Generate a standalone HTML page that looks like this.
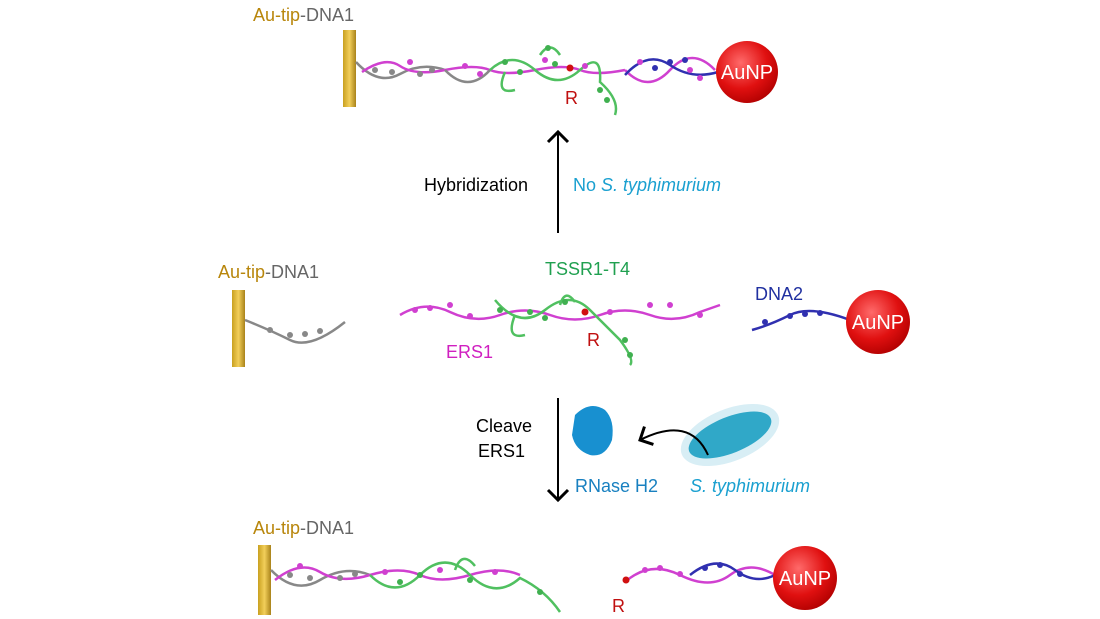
<!DOCTYPE html>
<html><head><meta charset="utf-8"><style>
html,body{margin:0;padding:0;background:#fff}
svg{display:block}
text{font-family:"Liberation Sans",Arial,sans-serif}
</style></head><body>
<svg width="1100" height="619" viewBox="0 0 1100 619" xmlns="http://www.w3.org/2000/svg">
<defs>
<linearGradient id="gold" x1="0" x2="1"><stop offset="0" stop-color="#c9a020"/><stop offset="0.5" stop-color="#f2cf5a"/><stop offset="1" stop-color="#a9821a"/></linearGradient>
<radialGradient id="np" cx="0.4" cy="0.35" r="0.7"><stop offset="0" stop-color="#ff6a6a"/><stop offset="0.6" stop-color="#e01010"/><stop offset="1" stop-color="#b00000"/></radialGradient>
<marker id="ah" markerWidth="12" markerHeight="12" refX="6" refY="6" orient="auto"><path d="M1,1 L6,6 L1,11" fill="none" stroke="#000" stroke-width="1.5"/></marker>
</defs>

<!-- TOP -->
<text x="253" y="21" font-size="18"><tspan fill="#b8860b">Au-tip</tspan><tspan fill="#666">-DNA1</tspan></text>
<rect x="343" y="30" width="13" height="77" fill="url(#gold)"/>
<g fill="none" stroke-width="2.5">
<path d="M356 62 Q378 86 400 74 T445 70" stroke="#888"/>
<path d="M362 72 Q385 56 400 66 T445 70 T490 70 T535 70 T580 70 T625 70" stroke="#d040d0"/>
<path d="M445 70 Q468 94 490 70" stroke="#888"/>
<path d="M490 70 Q512 50 535 70 T580 70 T600 82 Q620 100 615 115" stroke="#50c060"/>
<path d="M625 70 Q648 94 670 70 T715 70" stroke="#d040d0"/>
<path d="M625 75 Q648 50 670 65 T718 72" stroke="#3030b0"/>
<path d="M540 55 Q550 40 560 55" stroke="#50c060"/>
<path d="M505 72 Q495 95 515 90" stroke="#50c060"/>
</g>
<g fill="#d040d0"><circle cx="410" cy="62" r="3"/><circle cx="465" cy="66" r="3"/><circle cx="480" cy="74" r="3"/><circle cx="545" cy="60" r="3"/><circle cx="585" cy="66" r="3"/><circle cx="640" cy="62" r="3"/><circle cx="690" cy="70" r="3"/><circle cx="700" cy="78" r="3"/></g>
<g fill="#888"><circle cx="375" cy="70" r="3"/><circle cx="392" cy="72" r="3"/><circle cx="420" cy="74" r="3"/><circle cx="432" cy="70" r="3"/></g>
<g fill="#40b050"><circle cx="505" cy="62" r="3"/><circle cx="520" cy="72" r="3"/><circle cx="555" cy="64" r="3"/><circle cx="600" cy="90" r="3"/><circle cx="607" cy="100" r="3"/><circle cx="548" cy="48" r="3"/></g>
<g fill="#3030b0"><circle cx="655" cy="68" r="3"/><circle cx="670" cy="62" r="3"/><circle cx="685" cy="60" r="3"/></g>
<circle cx="570" cy="68" r="3.5" fill="#d01010"/>
<text x="565" y="104" font-size="18" fill="#c01010">R</text>
<circle cx="747" cy="72" r="31" fill="url(#np)"/>
<text x="747" y="79" font-size="20" fill="#fff" text-anchor="middle">AuNP</text>

<!-- arrow up -->
<line x1="558" y1="233" x2="558" y2="132" stroke="#000" stroke-width="2" marker-end="url(#ah)"/>
<text x="424" y="191" font-size="18" fill="#000">Hybridization</text>
<text x="573" y="191" font-size="18" fill="#1aa0d0">No <tspan font-style="italic">S. typhimurium</tspan></text>

<!-- MIDDLE -->
<text x="218" y="278" font-size="18"><tspan fill="#b8860b">Au-tip</tspan><tspan fill="#666">-DNA1</tspan></text>
<rect x="232" y="290" width="13" height="77" fill="url(#gold)"/>
<path d="M245 320 Q270 330 290 340 T345 322" fill="none" stroke="#888" stroke-width="2.5"/>
<g fill="#888"><circle cx="270" cy="330" r="3"/><circle cx="290" cy="335" r="3"/><circle cx="305" cy="334" r="3"/><circle cx="320" cy="331" r="3"/></g>
<text x="545" y="275" font-size="18" fill="#20a050">TSSR1-T4</text>
<path d="M400 315 Q425 300 450 312 T500 315 T550 315 T600 315 T650 315 T700 312 L720 305" fill="none" stroke="#d040d0" stroke-width="2.5"/>
<path d="M495 300 Q520 330 545 310 T590 310 T620 340 Q635 360 630 365 M515 315 Q505 340 525 335 M560 305 Q565 288 575 302" fill="none" stroke="#50c060" stroke-width="2.5"/>
<g fill="#d040d0"><circle cx="415" cy="310" r="3"/><circle cx="430" cy="308" r="3"/><circle cx="450" cy="305" r="3"/><circle cx="470" cy="316" r="3"/><circle cx="610" cy="312" r="3"/><circle cx="650" cy="305" r="3"/><circle cx="670" cy="305" r="3"/><circle cx="700" cy="315" r="3"/></g>
<g fill="#40b050"><circle cx="500" cy="310" r="3"/><circle cx="530" cy="312" r="3"/><circle cx="545" cy="318" r="3"/><circle cx="565" cy="302" r="3"/><circle cx="625" cy="340" r="3"/><circle cx="630" cy="355" r="3"/></g>
<circle cx="585" cy="312" r="3.5" fill="#d01010"/>
<text x="446" y="358" font-size="18" fill="#d020c0">ERS1</text>
<text x="587" y="346" font-size="18" fill="#c01010">R</text>
<text x="755" y="300" font-size="18" fill="#2030a0">DNA2</text>
<path d="M752 330 Q770 325 790 315 T850 320" fill="none" stroke="#3030b0" stroke-width="2.5"/>
<g fill="#3030b0"><circle cx="765" cy="322" r="3"/><circle cx="790" cy="316" r="3"/><circle cx="805" cy="314" r="3"/><circle cx="820" cy="313" r="3"/></g>
<circle cx="878" cy="322" r="32" fill="url(#np)"/>
<text x="878" y="329" font-size="20" fill="#fff" text-anchor="middle">AuNP</text>

<!-- arrow down -->
<line x1="558" y1="398" x2="558" y2="500" stroke="#000" stroke-width="2" marker-end="url(#ah)"/>
<text x="476" y="432" font-size="18">Cleave</text>
<text x="478" y="457" font-size="18">ERS1</text>
<path d="M575 415 Q590 400 605 410 Q615 420 612 440 Q605 458 590 455 Q575 450 572 435 Z" fill="#1890d0"/>
<ellipse cx="730" cy="435" rx="52" ry="26" transform="rotate(-22 730 435)" fill="#d8eef5"/>
<ellipse cx="730" cy="435" rx="44" ry="18" transform="rotate(-22 730 435)" fill="#30a8c8"/>
<path d="M708 455 Q690 415 640 440" fill="none" stroke="#000" stroke-width="2" marker-end="url(#ah)"/>
<text x="575" y="492" font-size="18" fill="#1880c0">RNase H2</text>
<text x="690" y="492" font-size="18" fill="#1aa0d0" font-style="italic">S. typhimurium</text>

<!-- BOTTOM -->
<text x="253" y="534" font-size="18"><tspan fill="#b8860b">Au-tip</tspan><tspan fill="#666">-DNA1</tspan></text>
<rect x="258" y="545" width="13" height="70" fill="url(#gold)"/>
<g fill="none" stroke-width="2.5">
<path d="M271 570 Q295 595 320 580 T370 575" stroke="#888"/>
<path d="M275 580 Q300 560 320 572 T370 575 T420 575 T470 575 T520 575" stroke="#d040d0"/>
<path d="M370 575 Q395 600 420 575 T470 575 T520 578 Q545 590 560 612" stroke="#50c060"/>
<path d="M455 570 Q462 550 475 566" stroke="#50c060"/>
</g>
<g fill="#888"><circle cx="290" cy="575" r="3"/><circle cx="310" cy="578" r="3"/><circle cx="340" cy="578" r="3"/><circle cx="355" cy="574" r="3"/></g>
<g fill="#d040d0"><circle cx="300" cy="566" r="3"/><circle cx="385" cy="572" r="3"/><circle cx="440" cy="570" r="3"/><circle cx="495" cy="572" r="3"/></g>
<g fill="#40b050"><circle cx="400" cy="582" r="3"/><circle cx="420" cy="575" r="3"/><circle cx="470" cy="580" r="3"/><circle cx="540" cy="592" r="3"/></g>
<path d="M625 582 Q650 560 680 575 T730 575 T775 575" fill="none" stroke="#d040d0" stroke-width="2.5"/>
<path d="M690 575 Q715 555 735 570 T775 575" fill="none" stroke="#3030b0" stroke-width="2.5"/>
<g fill="#d040d0"><circle cx="645" cy="570" r="3"/><circle cx="660" cy="568" r="3"/><circle cx="680" cy="574" r="3"/></g>
<g fill="#3030b0"><circle cx="705" cy="568" r="3"/><circle cx="720" cy="565" r="3"/><circle cx="740" cy="574" r="3"/></g>
<circle cx="626" cy="580" r="3.5" fill="#d01010"/>
<text x="612" y="612" font-size="18" fill="#c01010">R</text>
<circle cx="805" cy="578" r="32" fill="url(#np)"/>
<text x="805" y="585" font-size="20" fill="#fff" text-anchor="middle">AuNP</text>
</svg>
</body></html>
